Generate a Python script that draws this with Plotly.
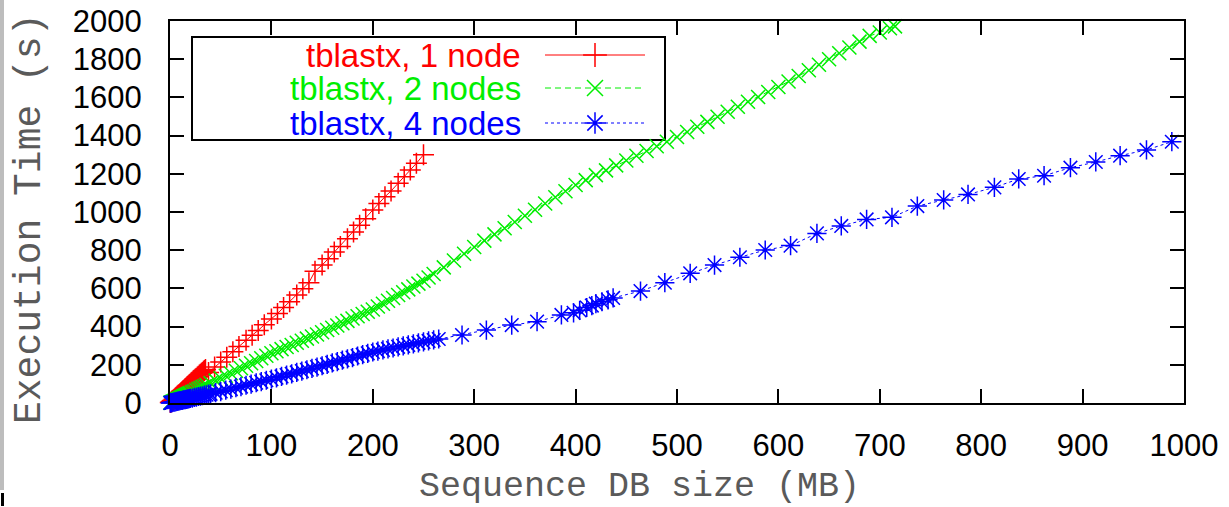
import plotly.graph_objects as go

# ---------------- data ----------------
x_ticks = [0, 100, 200, 300, 400, 500, 600, 700, 800, 900, 1000]
y_ticks = [0, 200, 400, 600, 800, 1000, 1200, 1400, 1600, 1800, 2000]

series_names = ["tblastx, 1 node", "tblastx, 2 nodes", "tblastx, 4 nodes"]

red_x = [0.3, 0.8, 1.5, 2, 2.5, 3, 4, 5, 6, 7, 8, 9, 10, 11, 12, 13, 14, 15, 16, 17,
         18, 19, 20, 21, 22, 23, 24, 25, 26, 27, 28, 29, 30, 31, 32, 33, 34, 35,
         38, 44, 50, 56, 62, 68, 75, 81, 87, 93, 100, 106, 112, 118, 125, 131, 137,
         143, 150, 156, 162, 168, 175, 181, 187, 193, 200, 206, 212, 218, 225, 231,
         237, 243, 250]
red_y = [2, 4, 7, 10, 12, 15, 20, 25, 30, 35, 40, 45, 50, 55, 60, 66, 70, 76, 80, 86,
         90, 96, 100, 106, 110, 116, 120, 126, 130, 136, 140, 146, 150, 156, 160, 166, 170, 176,
         160, 188, 215, 240, 268, 296, 328, 355, 380, 410, 440, 468, 500, 530, 565, 598, 630,
         690, 722, 755, 790, 820, 860, 895, 930, 965, 1010, 1045, 1080, 1110, 1150, 1185,
         1220, 1255, 1300]

green_x = [0.3, 0.8, 1.5, 2, 3, 4, 5, 6, 7, 8, 9, 10, 11, 12, 13, 14, 15, 16, 17, 18,
           19, 20, 22, 24, 26, 28, 30, 32, 34, 36,
           40, 45, 50, 55, 60, 65, 70, 75, 80, 85, 90, 95, 100, 105, 110, 115, 120, 125,
           130, 135, 140, 145, 150, 155, 160, 165, 170, 175, 180, 185, 190, 195, 200, 205,
           210, 215, 220, 225, 230, 235, 240, 245, 250, 255, 260,
           270, 280, 290, 300, 310, 320, 330, 340, 350, 360, 370, 380, 390, 400, 410, 420,
           430, 440, 450, 460, 470, 480, 490, 500, 510, 520, 530, 540, 550, 560, 570, 580,
           590, 600, 610, 620, 630, 640, 650, 660, 670, 680, 690, 700, 710, 715]
green_y = [1, 2, 4, 5, 8, 10, 13, 16, 18, 21, 23, 26, 29, 31, 34, 36, 39, 42, 44, 47,
           49, 52, 57, 62, 68, 73, 78, 83, 88, 94,
           104, 117, 130, 143, 156, 169, 182, 195, 208, 220, 234, 247, 260, 271, 282, 293,
           304, 315, 326, 337, 348, 359, 370, 382, 394, 406, 418, 430, 442, 454, 466, 478,
           490, 505, 520, 535, 550, 565, 580, 595, 610, 625, 640, 657, 675,
           710, 746, 781, 817, 850, 883, 915, 948, 980, 1012, 1045, 1077, 1109, 1141, 1167,
           1193, 1218, 1244, 1270, 1295, 1319, 1344, 1368, 1393, 1419, 1446, 1472, 1499,
           1525, 1551, 1577, 1602, 1628, 1654, 1683, 1712, 1742, 1771, 1800, 1831, 1861,
           1892, 1922, 1940, 1962, 1972]

blue_x = [0.3, 0.8, 1.5, 2, 3, 4, 5, 6, 7, 8, 9, 10, 11, 12, 13, 14, 15, 16, 17, 18,
          19, 20, 22, 24, 26, 28, 30, 32, 34, 36, 38, 40,
          45, 50, 55, 60, 65, 70, 75, 80, 85, 90, 95, 100, 105, 110, 115, 120, 125, 130,
          135, 140, 145, 150, 155, 160, 165, 170, 175, 180, 185, 190, 195, 200, 205, 210,
          215, 220, 225, 230, 235, 240, 245, 250, 255, 260, 265,
          288, 312, 337, 362, 386, 398, 404, 411, 416, 420, 426, 432, 437, 464, 488, 513,
          537, 562, 587, 612, 638, 662, 687, 712, 737, 763, 787, 813, 837, 862, 888, 913,
          937, 963, 988]
blue_y = [0, 1, 2, 2, 4, 5, 6, 7, 8, 10, 11, 12, 13, 14, 16, 17, 18, 19, 20, 22,
          23, 24, 26, 29, 31, 34, 36, 38, 41, 43, 46, 48,
          54, 60, 67, 73, 80, 86, 93, 99, 106, 112, 119, 125, 132, 139, 146, 153, 160, 167,
          174, 181, 188, 195, 202, 210, 217, 224, 231, 238, 246, 253, 260, 267, 272, 278,
          283, 288, 294, 299, 304, 310, 315, 320, 325, 330, 335,
          356, 382, 408, 426, 461, 472, 485, 500, 510, 520, 530, 540, 550, 586, 630, 679,
          722, 763, 801, 824, 888, 927, 961, 972, 1031, 1063, 1092, 1129, 1173, 1190, 1232,
          1262, 1295, 1325, 1368]

# ---------------- styling ----------------
RED, GREEN, BLUE = "#ff0000", "#00ee00", "#0000ff"
W, H = 1229, 507
L, R, T, B = 170, 45, 21, 104
PW, PH = W - L - R, H - T - B


def px(xp):
    return (xp - L) / PW


def py(yp):
    return (H - B - yp) / PH


TICK_FONT = dict(family="Liberation Sans, Arial, sans-serif", size=31, color="black")
XTITLE_FONT = dict(family="Liberation Mono, Courier New, monospace", size=35, color="#5a5a5a")
YTITLE_FONT = dict(family="Liberation Mono, Courier New, monospace", size=38, color="#5a5a5a")

styles = [
    dict(color=RED, dash="solid", symbol="cross-thin", size=15),
    dict(color=GREEN, dash="6px,4px", symbol="x-thin", size=14),
    dict(color=BLUE, dash="3px,3px", symbol="asterisk-open", size=16),
]
data = [(red_x, red_y), (green_x, green_y), (blue_x, blue_y)]

fig = go.Figure()
for (xs, ys), st, name in zip(data, styles, series_names):
    fig.add_trace(go.Scatter(
        x=xs, y=ys, name=name, mode="lines+markers",
        line=dict(color=st["color"], width=1, dash=st["dash"]),
        marker=dict(symbol=st["symbol"], size=st["size"], color=st["color"],
                    line=dict(color=st["color"], width=1.5)),
        cliponaxis=False, showlegend=False,
    ))

# legend samples drawn on an overlay axis in plot-fraction units
leg_rows = [py(55), py(88), py(123)]
for st, yy in zip(styles, leg_rows):
    fig.add_trace(go.Scatter(
        x=[px(545), px(595), px(645)], y=[yy, yy, yy], xaxis="x2", yaxis="y2",
        mode="lines", line=dict(color=st["color"], width=1, dash=st["dash"]),
        showlegend=False, hoverinfo="skip"))
    fig.add_trace(go.Scatter(
        x=[px(595)], y=[yy], xaxis="x2", yaxis="y2", mode="markers",
        marker=dict(symbol=st["symbol"], size=st["size"] + 2, color=st["color"],
                    line=dict(color=st["color"], width=1.5)),
        showlegend=False, hoverinfo="skip"))

axis_common = dict(
    showline=True, linewidth=2, linecolor="black", mirror="ticks",
    ticks="inside", ticklen=14, tickwidth=2, tickcolor="black",
    showgrid=False, zeroline=False, tickfont=TICK_FONT, automargin=False,
)

annotations = []
for name, st, yy in zip(series_names, styles, leg_rows):
    annotations.append(dict(
        text=name, x=px(523), y=yy, xref="paper", yref="paper",
        xanchor="right", yanchor="middle", showarrow=False,
        font=dict(family="Liberation Sans, Arial, sans-serif", size=33, color=st["color"])))
annotations.append(dict(
    text="Sequence DB size (MB)", x=px(639), y=py(487), xref="paper", yref="paper",
    xanchor="center", yanchor="middle", showarrow=False, font=XTITLE_FONT))
annotations.append(dict(
    text="Execution Time (s)", x=px(30), y=py(219), xref="paper", yref="paper",
    xanchor="center", yanchor="middle", showarrow=False, textangle=-90, font=YTITLE_FONT))

shapes = [
    # legend box
    dict(type="rect", xref="paper", yref="paper", x0=px(192), x1=px(665),
         y0=py(140), y1=py(37), line=dict(color="black", width=2),
         fillcolor="white", layer="below"),
    # grey strip at the left edge of the page
    dict(type="rect", xref="paper", yref="paper", x0=px(0), x1=px(4),
         y0=py(490), y1=py(0), line=dict(width=0), fillcolor="#bdbdbd", layer="below"),
    dict(type="rect", xref="paper", yref="paper", x0=px(1), x1=px(4),
         y0=py(506), y1=py(493), line=dict(width=0), fillcolor="black", layer="below"),
]

fig.update_layout(
    template="none",
    width=W, height=H,
    margin=dict(l=L, r=R, t=T, b=B, autoexpand=False),
    paper_bgcolor="white", plot_bgcolor="white",
    xaxis=dict(range=[0, 1000], tickvals=x_ticks, ticklabelstandoff=14, **axis_common),
    yaxis=dict(range=[0, 2000], tickvals=y_ticks, ticklabelstandoff=20, **axis_common),
    xaxis2=dict(overlaying="x", range=[0, 1], visible=False, anchor="y2"),
    yaxis2=dict(overlaying="y", range=[0, 1], visible=False, anchor="x2"),
    annotations=annotations, shapes=shapes,
)

fig.write_html("out.html")
